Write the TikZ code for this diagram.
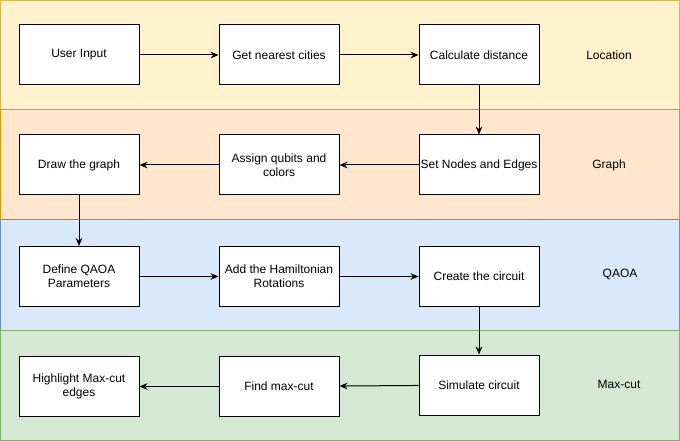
\documentclass[tikz,border=0pt]{standalone}
\usepackage{fontspec}
\setmainfont{Liberation Sans}
\usepackage{tikz}
\usetikzlibrary{positioning,arrows.meta}
\definecolor{locfill}{HTML}{FFF2CC}
\definecolor{locline}{HTML}{D6B656}
\definecolor{grafill}{HTML}{FFE6CC}
\definecolor{graline}{HTML}{D79B00}
\definecolor{qaofill}{HTML}{DAE8FC}
\definecolor{qaoline}{HTML}{6C8EBF}
\definecolor{cutfill}{HTML}{D5E8D4}
\definecolor{cutline}{HTML}{82B366}

\begin{document}
\begin{tikzpicture}[x=0.75pt, y=-0.75pt, line width=0.75pt,
    every node/.style={font=\fontsize{9}{10.5}\selectfont},
    box/.style={rectangle, draw, fill=white, minimum width=90pt, minimum height=45pt, inner sep=1pt, align=center},
    flow/.style={-{Stealth[length=6pt,width=5pt]}}]
        \useasboundingbox (0,0) rectangle (680,441);
        \draw[locline, fill=locfill] (0.5,0.5) rectangle (679.5,110);
        \draw[graline, fill=grafill] (0.5,110) rectangle (679.5,220);
        \draw[qaoline, fill=qaofill] (0.5,220) rectangle (679.5,330);
        \draw[cutline, fill=cutfill] (0.5,330) rectangle (679.5,440.5);
        \node[box] (1) at (79,55) {User Input};
        \node[box] (2) at (279,55) {Get nearest cities};
        \node[box] (3) at (479,55) {Calculate distance};
        \node[box] (4) at (479,165) {Set Nodes and Edges};
        \node[box] (5) at (279,165) {Assign qubits and\\colors};
        \node[box] (6) at (79,165) {Draw the graph};
        \node[box] (7) at (79,276.5) {Define QAOA\\Parameters};
        \node[box] (8) at (279,276.5) {Add the Hamiltonian\\Rotations};
        \node[box] (9) at (479,276.5) {Create the circuit};
        \node[box] (10) at (479,385) {Simulate circuit};
        \node[box] (11) at (279,386.5) {Find max-cut};
        \node[box] (12) at (79,386.5) {Highlight Max-cut\\edges};
        \node (loc) at (609,55) {Location};
        \node (gra) at (609,165) {Graph};
        \node (qao) at (620,274) {QAOA};
        \node (cut) at (619,384) {Max-cut};
        \draw[flow] (1) -- (2);
        \draw[flow] (2) -- (3);
        \draw[flow] (3) -- (4);
        \draw[flow] (4) -- (5);
        \draw[flow] (5) -- (6);
        \draw[flow] (6) -- (7);
        \draw[flow] (7) -- (8);
        \draw[flow] (8) -- (9);
        \draw[flow] (9) -- (10);
        \draw[flow] (10) -- (11);
        \draw[flow] (11) -- (12);
    \end{tikzpicture}
\end{document}
